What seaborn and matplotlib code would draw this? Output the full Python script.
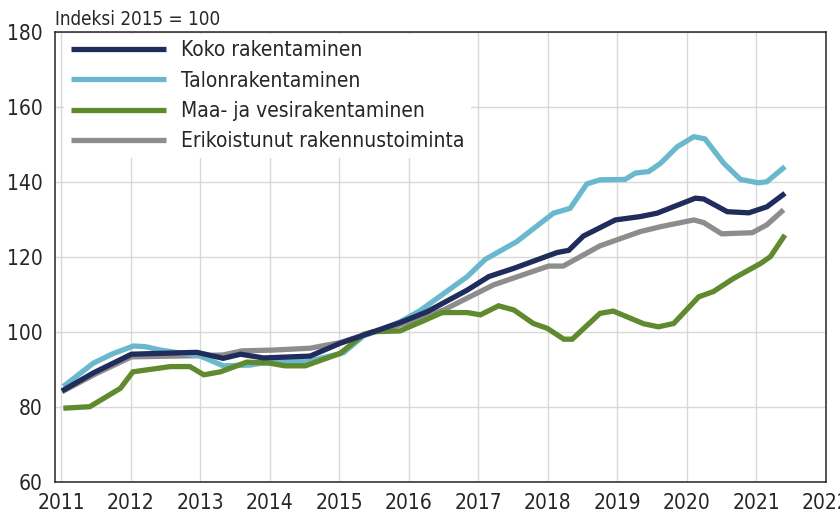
import numpy as np
import pandas as pd
import matplotlib
matplotlib.use("Agg")
import matplotlib.pyplot as plt
import seaborn as sns

# Rakentamisen liikevaihdon trendit, indeksi 2015 = 100 (luettu kuvasta)
koko_vuosi = [2011.01, 2011.46, 2012.01, 2012.95, 2013.33, 2013.58, 2013.91, 2014.58, 2015.01,
              2015.35, 2015.87, 2016.26, 2016.84, 2017.15, 2017.51, 2018.13, 2018.30, 2018.51,
              2018.97, 2019.33, 2019.57, 2020.12, 2020.24, 2020.58, 2020.89, 2021.15, 2021.41]
koko = [84.2, 89.0, 94.0, 94.5, 92.9, 94.0, 93.0, 93.5, 96.9,
        99.1, 102.4, 105.3, 111.1, 114.7, 116.9, 121.1, 121.7, 125.5,
        129.8, 130.7, 131.6, 135.6, 135.4, 132.0, 131.7, 133.3, 136.9]

talo_vuosi = [2011.03, 2011.46, 2011.75, 2012.04, 2012.21, 2012.43, 2013.0, 2013.33, 2013.72,
              2014.0, 2014.53, 2015.06, 2015.35, 2015.59, 2015.87, 2016.16, 2016.84, 2017.10,
              2017.55, 2018.08, 2018.32, 2018.56, 2018.75, 2019.11, 2019.26, 2019.45, 2019.62,
              2019.86, 2020.10, 2020.26, 2020.53, 2020.77, 2021.03, 2021.15, 2021.41]
talo = [85.4, 91.6, 94.2, 96.2, 96.0, 95.1, 93.5, 90.9, 91.1,
        92.0, 92.0, 94.4, 98.9, 100.5, 102.6, 105.6, 114.7, 119.3,
        124.0, 131.6, 132.9, 139.4, 140.5, 140.6, 142.3, 142.7, 144.9,
        149.3, 152.0, 151.4, 144.9, 140.6, 139.7, 140.0, 144.0]

maa_vuosi = [2011.03, 2011.41, 2011.85, 2012.03, 2012.57, 2012.85, 2013.05, 2013.29, 2013.67,
             2014.0, 2014.22, 2014.51, 2015.01, 2015.35, 2015.49, 2015.87, 2016.21, 2016.48,
             2016.84, 2017.03, 2017.29, 2017.51, 2017.79, 2017.99, 2018.23, 2018.35, 2018.75,
             2018.94, 2019.38, 2019.59, 2019.81, 2020.17, 2020.38, 2020.67, 2021.06, 2021.20,
             2021.41]
maa = [79.6, 80.0, 84.9, 89.3, 90.7, 90.7, 88.5, 89.3, 91.9,
       91.6, 90.9, 90.9, 94.2, 99.3, 100.0, 100.2, 102.9, 105.1,
       105.1, 104.5, 106.9, 105.8, 102.2, 100.9, 98.0, 98.0, 104.9,
       105.5, 102.1, 101.3, 102.2, 109.3, 110.7, 114.2, 118.2, 120.0,
       125.8]

erik_vuosi = [2011.01, 2011.5, 2012.01, 2012.95, 2013.33, 2013.60, 2014.05, 2014.58, 2015.01,
              2015.35, 2015.87, 2016.50, 2017.22, 2018.01, 2018.22, 2018.75, 2019.33, 2019.62,
              2020.10, 2020.24, 2020.50, 2020.94, 2021.15, 2021.39]
erik = [84.0, 88.8, 93.3, 93.6, 93.8, 94.9, 95.1, 95.6, 97.1,
        99.1, 101.8, 105.8, 112.5, 117.5, 117.5, 122.9, 126.7, 128.0,
        129.8, 129.1, 126.1, 126.4, 128.5, 132.5]

nimet = ["Koko rakentaminen", "Talonrakentaminen", "Maa- ja vesirakentaminen",
         "Erikoistunut rakennustoiminta"]
varit = ["#1f2c5c", "#6ab8cd", "#5f8b2e", "#8d8d8d"]
vuodet = list(range(2011, 2023))

sns.set_theme(style="whitegrid")
plt.rcParams['font.family'] = ['DejaVu Sans']
plt.rcParams['font.stretch'] = 'condensed'

fig = plt.figure(figsize=(8.4, 5.21), dpi=100)
ax = fig.add_axes([0.0655, 0.0754, 0.9178, 0.8638])

sarjat = [(koko_vuosi, koko), (talo_vuosi, talo), (maa_vuosi, maa), (erik_vuosi, erik)]
# piirtojärjestys: harmaa alimmaisena, koko rakentaminen päällimmäisenä
jarjestys = [3, 1, 2, 0]
for i in jarjestys:
    x, y = sarjat[i]
    df = pd.DataFrame({'vuosi': x, 'indeksi': y})
    sns.lineplot(data=df, x='vuosi', y='indeksi', ax=ax, color=varit[i], linewidth=3.8,
                 label=nimet[i], estimator=None, sort=False, zorder=5 + jarjestys.index(i),
                 solid_joinstyle='miter', solid_capstyle='butt')

ax.set_xlim(2010.91, 2022.0)
ax.set_ylim(60, 180)
ax.set_xticks(vuodet)
ax.set_xticklabels([str(v) for v in vuodet])
ax.set_yticks(range(60, 181, 20))
ax.set_xlabel('')
ax.set_ylabel('')

ax.grid(True, color='#d9d9d9', linewidth=1.0)
for s in ax.spines.values():
    s.set_visible(True)
    s.set_color('#262626')
    s.set_linewidth(1.1)
ax.tick_params(axis='both', length=0, labelsize=15, colors='#262626')
ax.tick_params(axis='x', pad=8)
ax.tick_params(axis='y', pad=9)

ax.text(0.0, 1.006, 'Indeksi 2015 = 100', transform=ax.transAxes, ha='left', va='bottom',
        fontsize=13.5, color='#262626')

handles, labels = ax.get_legend_handles_labels()
order = [labels.index(n) for n in nimet]
leg = ax.legend([handles[k] for k in order], [labels[k] for k in order],
                loc='upper left', bbox_to_anchor=(0.012, 0.995), fontsize=15,
                frameon=True, facecolor='white', edgecolor='none', framealpha=1,
                handlelength=4.6, handletextpad=0.7, labelspacing=0.5,
                borderpad=0.3, borderaxespad=0.0)
leg.set_zorder(20)
for t in leg.get_texts():
    t.set_color('#262626')

fig.savefig('out.png', dpi=100)
